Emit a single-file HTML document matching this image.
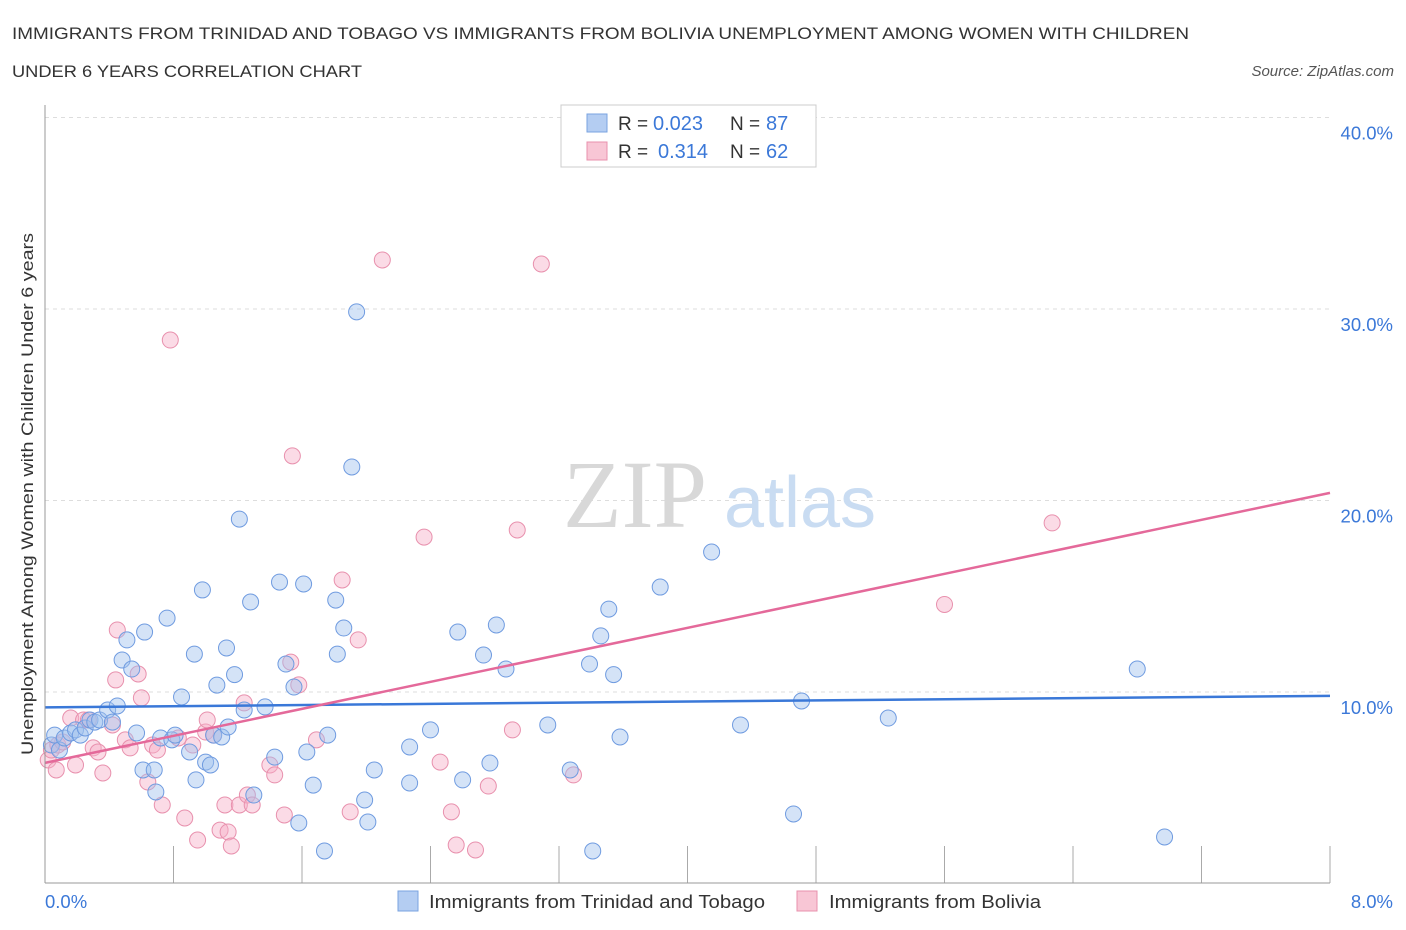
<!DOCTYPE html>
<html><head><meta charset="utf-8"><style>
body{margin:0;background:#fff;font-family:"Liberation Sans",sans-serif}
svg{display:block}
</style></head><body>
<svg width="1406" height="930" viewBox="0 0 1406 930">
<text x="12" y="39" font-size="17" fill="#333" textLength="1177" lengthAdjust="spacingAndGlyphs">IMMIGRANTS FROM TRINIDAD AND TOBAGO VS IMMIGRANTS FROM BOLIVIA UNEMPLOYMENT AMONG WOMEN WITH CHILDREN</text>
<text x="12" y="77" font-size="17" fill="#333" textLength="350" lengthAdjust="spacingAndGlyphs">UNDER 6 YEARS CORRELATION CHART</text>
<text x="1394" y="76" font-size="15" fill="#555" font-style="italic" text-anchor="end">Source: ZipAtlas.com</text>
<g id="grid"></g>
<text x="635" y="527" font-size="96" fill="#d8d8d8" font-family="Liberation Serif,serif" text-anchor="middle">ZIP</text>
<text x="800" y="527" font-size="72" fill="#c9dcf2" text-anchor="middle">atlas</text>
<g id="pts"></g>
<g id="lines"></g>
<line x1="45" y1="883" x2="1330" y2="883" stroke="#999"/>
<line x1="45" y1="105" x2="45" y2="883" stroke="#999"/>
<text x="45" y="908" font-size="18.5" fill="#3b78d8">0.0%</text>
<text x="1393" y="908" font-size="18.5" fill="#3b78d8" text-anchor="end">8.0%</text>
<text transform="translate(33,494) rotate(-90)" font-size="17" fill="#333" text-anchor="middle" textLength="522" lengthAdjust="spacingAndGlyphs">Unemployment Among Women with Children Under 6 years</text>
<g>
<rect x="561" y="105" width="255" height="62" fill="#fff" stroke="#ccc"/>
<rect x="587" y="114" width="20" height="18" fill="#b4cdf2" stroke="#7aa3e0"/>
<rect x="587" y="142" width="20" height="18" fill="#f8c6d5" stroke="#e890ad"/>
<text x="618" y="130" font-size="19" fill="#333">R =</text>
<text x="653" y="130" font-size="20" fill="#3b78d8">0.023</text>
<text x="730" y="130" font-size="19" fill="#333">N =</text>
<text x="766" y="130" font-size="20" fill="#3b78d8">87</text>
<text x="618" y="158" font-size="19" fill="#333">R =</text>
<text x="658" y="158" font-size="20" fill="#3b78d8">0.314</text>
<text x="730" y="158" font-size="19" fill="#333">N =</text>
<text x="766" y="158" font-size="20" fill="#3b78d8">62</text>
</g>
<g>
<rect x="398" y="891" width="20" height="20" fill="#b4cdf2" stroke="#7aa3e0"/>
<text x="429" y="908" font-size="18" fill="#333" textLength="336" lengthAdjust="spacingAndGlyphs">Immigrants from Trinidad and Tobago</text>
<rect x="797" y="891" width="20" height="20" fill="#f8c6d5" stroke="#e890ad"/>
<text x="829" y="908" font-size="18" fill="#333" textLength="212" lengthAdjust="spacingAndGlyphs">Immigrants from Bolivia</text>
</g>
</svg>
<script>
const yTicks=[10,20,30,40];
const xTicks=[0,0.8,1.6,2.4,3.2,4,4.8,5.6,6.4,7.2,8];
const blueX=[0.04,0.06,0.09,0.12,0.16,0.19,0.22,0.25,0.28,0.31,0.34,0.39,0.42,0.45,0.48,0.51,0.54,0.57,0.62,0.61,0.68,0.69,0.72,0.76,0.79,0.81,0.85,0.90,0.93,0.94,0.98,1.00,1.03,1.05,1.07,1.10,1.13,1.14,1.18,1.21,1.24,1.28,1.30,1.37,1.43,1.46,1.50,1.55,1.58,1.61,1.63,1.67,1.74,1.76,1.81,1.82,1.86,1.91,1.94,1.99,2.01,2.05,2.27,2.27,2.40,2.57,2.60,2.73,2.77,2.81,2.87,3.13,3.27,3.39,3.41,3.46,3.51,3.54,3.58,3.83,4.15,4.33,4.66,4.71,5.25,6.80,6.97];
const blueY=[7.23,7.75,6.97,7.60,7.86,8.02,7.75,8.12,8.54,8.43,8.54,9.06,8.43,9.27,11.67,12.72,11.20,7.86,13.13,5.93,5.93,4.78,7.60,13.86,7.50,7.75,9.74,6.87,11.98,5.41,15.33,6.34,6.19,7.75,10.36,7.65,12.30,8.17,10.91,19.03,9.06,14.70,4.62,9.22,6.60,15.74,11.46,10.26,3.16,15.64,6.87,5.14,1.70,7.75,14.80,11.98,13.34,21.75,29.85,4.36,3.21,5.93,7.13,5.25,8.02,13.13,5.41,11.93,6.29,13.50,11.20,8.28,5.93,11.46,1.70,12.93,14.33,10.91,7.65,15.48,17.31,8.28,3.63,9.53,8.64,11.20,2.43];
const pinkX=[0.02,0.04,0.08,0.11,0.16,0.19,0.24,0.27,0.30,0.33,0.36,0.42,0.44,0.45,0.50,0.53,0.58,0.60,0.64,0.67,0.70,0.73,0.78,0.83,0.87,0.92,0.95,1.00,1.01,1.05,1.09,1.12,1.14,1.16,1.21,1.24,1.26,1.29,1.40,1.43,1.49,1.53,1.54,1.58,1.69,1.85,1.90,1.95,2.10,2.36,2.46,2.53,2.56,2.68,2.76,2.91,2.94,3.09,3.29,5.60,6.27,0.07];
const pinkY=[6.45,6.97,7.23,7.39,8.64,6.19,8.54,8.54,7.08,6.87,5.77,8.28,10.63,13.24,7.50,7.08,10.94,9.69,5.30,7.23,6.97,4.10,28.38,7.60,3.42,7.23,2.27,7.91,8.54,7.75,2.79,4.10,2.69,1.96,4.10,9.43,4.62,4.10,6.19,5.67,3.58,11.56,22.33,10.37,7.50,15.85,3.74,12.72,32.56,18.09,6.34,3.74,2.01,1.75,5.09,8.02,18.46,32.35,5.67,14.57,18.83,5.93];
const blueLine=[9.2,9.8];
const pinkLine=[6.3,20.4];
const NS="http://www.w3.org/2000/svg";
const sx=v=>45+v/8*1285;
const sy=v=>883.5-v/10*191.5;
function mk(t,a,p){const e=document.createElementNS(NS,t);for(const k in a)e.setAttribute(k,a[k]);p.appendChild(e);return e;}
const grid=document.getElementById('grid');
yTicks.forEach(t=>{
 const l=mk('line',{x1:45,x2:1330,y1:sy(t),y2:sy(t),stroke:'#ddd','stroke-dasharray':'4,4'},grid);
 
 
 const tx=mk('text',{x:1393,y:sy(t)+22,'font-size':18.5,fill:'#3b78d8','text-anchor':'end'},grid);
 tx.textContent=t.toFixed(1)+'%';
 
 
});
xTicks.forEach(t=>{
 const l=mk('line',{x1:sx(t),x2:sx(t),y1:846,y2:883,stroke:'#aaa'},grid);
 
 
});
const pts=document.getElementById('pts');
pinkX.forEach((x,i)=>{
 const c=mk('circle',{cx:sx(x),cy:sy(pinkY[i]),r:8,fill:'rgba(246,176,200,0.45)',stroke:'#e890ad','stroke-width':1},pts);
 
 
});
blueX.forEach((x,i)=>{
 const c=mk('circle',{cx:sx(x),cy:sy(blueY[i]),r:8,fill:'rgba(160,192,238,0.45)',stroke:'#6f9be0','stroke-width':1},pts);
 
 
});
const lines=document.getElementById('lines');
const bl=mk('line',{x1:sx(0),x2:sx(8),y1:sy(blueLine[0]),y2:sy(blueLine[1]),stroke:'#3a78d8','stroke-width':2.5},lines);


const pl=mk('line',{x1:sx(0),x2:sx(8),y1:sy(pinkLine[0]),y2:sy(pinkLine[1]),stroke:'#e4699a','stroke-width':2.5},lines);


</script>
</body></html>
